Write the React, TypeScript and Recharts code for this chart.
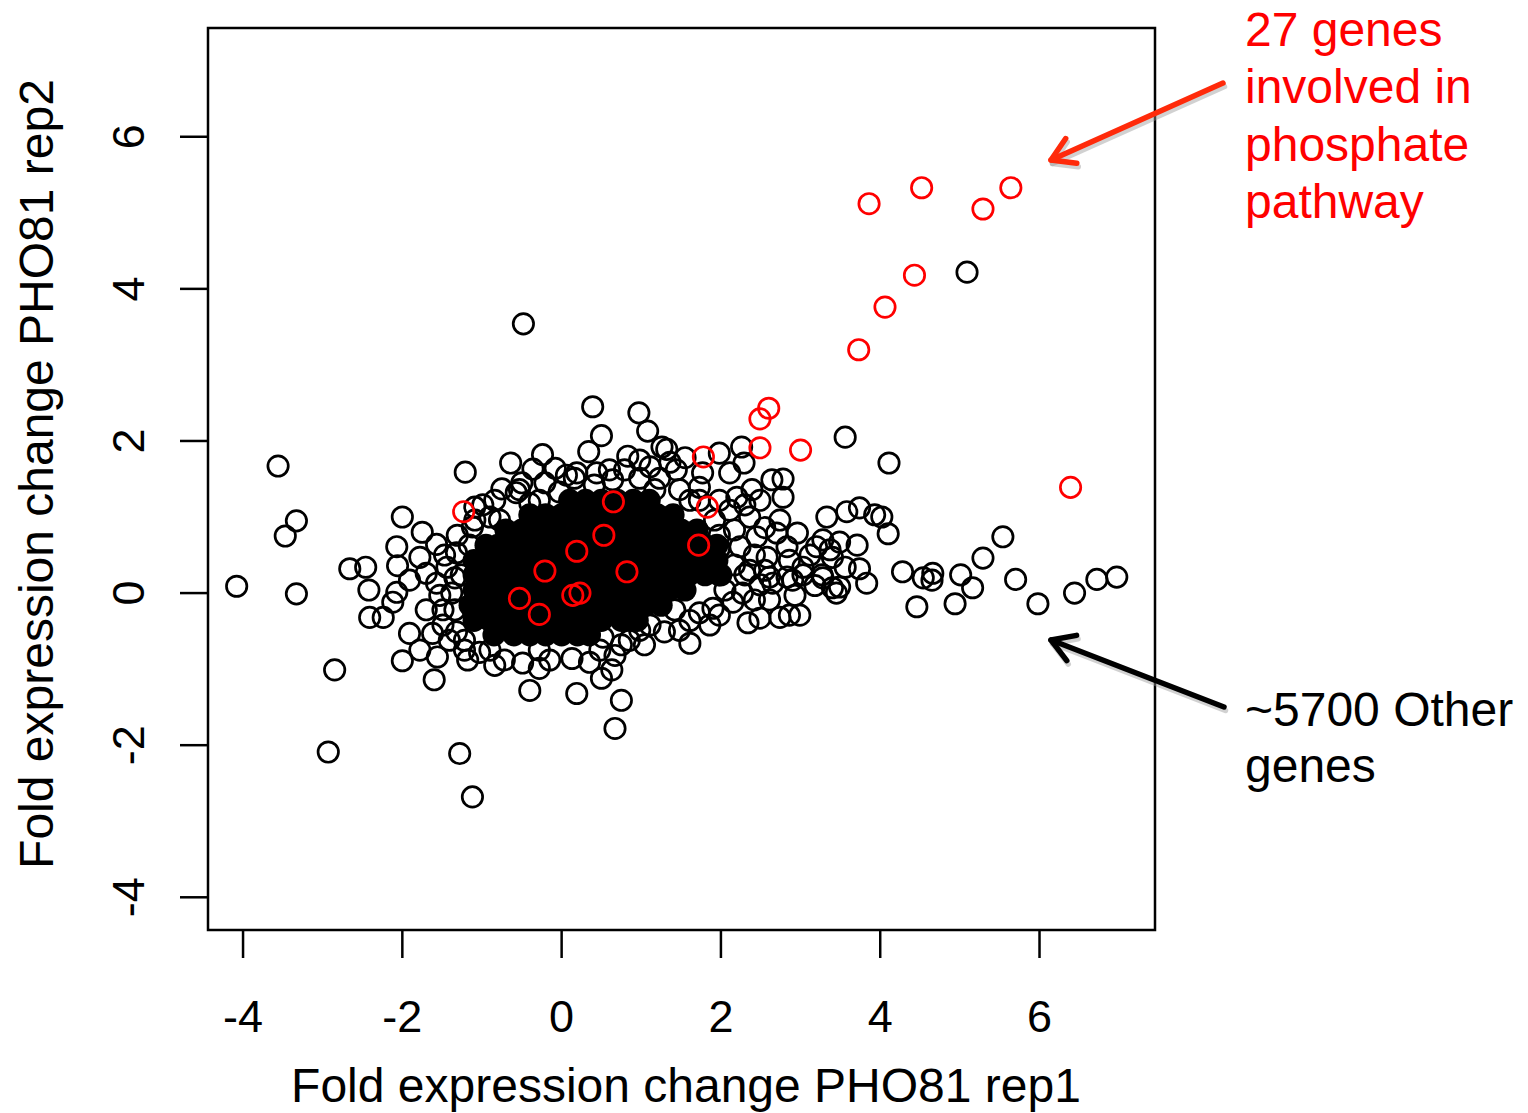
import React from "react";
import { ScatterChart, Scatter, XAxis, YAxis, ReferenceArea } from "recharts";

const xTicks = [-4, -2, 0, 2, 4, 6];
const yTicks = [-4, -2, 0, 2, 4, 6];
const xDomain: [number, number] = [-4.44, 7.45];
const yDomain: [number, number] = [-4.43, 7.43];

const xTitle = "Fold expression change PHO81 rep1";
const yTitle = "Fold expression change PHO81 rep2";
const redNote = ["27 genes", "involved in", "phosphate", "pathway"];
const blackNote = ["~5700 Other", "genes"];

// phosphate pathway genes (red)
const phosphateGenes: [number, number][] = [
  [5.64, 5.33], [4.52, 5.33], [3.86, 5.12], [5.29, 5.05], [4.43, 4.18],
  [4.06, 3.76], [3.73, 3.2], [2.6, 2.43], [2.49, 2.29], [2.49, 1.91],
  [3.0, 1.88], [1.78, 1.79], [6.39, 1.39], [-1.23, 1.07], [1.83, 1.13],
  [0.65, 1.2], [0.53, 0.76], [0.19, 0.55], [1.72, 0.63], [-0.21, 0.29],
  [0.82, 0.28], [-0.53, -0.07], [0.14, -0.03], [0.23, 0.0], [-0.28, -0.28],
];

// other genes that can be told apart (black)
const otherGenes: [number, number][] = [
  // far outliers
  [-4.08, 0.09], [-3.56, 1.67], [-3.33, 0.95], [-3.47, 0.75], [-3.33, -0.01],
  [-2.85, -1.01], [-2.93, -2.09], [-1.28, -2.11], [-1.12, -2.68], [-0.48, 3.54],
  [5.09, 4.22], [3.56, 2.05], [4.11, 1.71],
  [-2.66, 0.32], [-2.46, 0.34], [-2.42, 0.04], [-2.41, -0.32], [-2.24, -0.32],
  [-2.0, 1.0], [-2.07, 0.61], [-2.06, 0.36], [-2.07, 0.01], [-2.12, -0.12],
  [-2.0, -0.89], [-1.6, -1.14], [-1.21, 1.59],
  [-0.4, -1.28], [0.19, -1.32], [0.5, -1.12], [0.63, -1.01], [0.75, -1.41], [0.67, -1.78],
  // upper fringe
  [0.39, 2.45], [0.97, 2.37], [0.5, 2.07], [1.08, 2.13], [0.34, 1.86], [0.83, 1.8],
  [1.26, 1.92], [1.32, 1.89], [1.55, 1.78], [1.98, 1.84], [2.26, 1.92], [2.29, 1.71],
  [-0.24, 1.82], [-0.64, 1.71], [-0.08, 1.64], [-0.36, 1.63], [-0.5, 1.45],
  [-0.75, 1.37], [-0.57, 1.32], [-0.28, 1.22], [-0.99, 1.16], [-1.09, 1.13],
  [0.06, 1.55], [0.19, 1.58], [0.44, 1.58], [0.64, 1.49], [1.11, 1.66],
  [1.44, 1.62], [1.77, 1.58], [2.11, 1.58],
  [1.48, 1.36], [1.73, 1.22], [1.92, 0.96], [1.23, 1.51], [1.98, 0.76],
  [0.98, 1.51], [0.79, 1.62], [-0.78, 0.96], [-0.4, 1.18], [-0.03, 1.33], [0.41, 1.42],
  [1.17, 1.36], [1.73, 1.39], [1.98, 1.22], [2.3, 1.16], [1.61, 1.22],
  [-0.84, 1.22], [-0.53, 1.36], [-0.21, 1.45], [0.16, 1.51], [0.6, 1.62],
  [0.98, 1.75], [1.36, 1.72],
  // right fringe
  [2.64, 1.49], [2.78, 1.5], [2.39, 1.36], [2.78, 1.26], [2.49, 1.22], [2.2, 1.26],
  [2.11, 1.09], [2.36, 1.0], [2.74, 0.96], [2.96, 0.79], [2.7, 0.79], [2.45, 0.74],
  [2.24, 0.61], [2.83, 0.61], [3.2, 0.61], [3.4, 0.47], [2.58, 0.47], [3.03, 0.34],
  [2.83, 0.21], [2.36, 0.3], [2.65, 0.13], [3.28, 0.2], [3.49, 0.08], [2.49, 0.11],
  [2.61, 0.21], [2.9, 0.17], [3.03, 0.24], [3.27, 0.24], [3.4, 0.07], [2.55, 0.86],
  [2.05, 0.04], [2.3, 0.24], [1.98, 0.24],
  [2.17, 0.83], [1.98, 0.59], [2.42, 0.5], [2.17, 0.37], [2.55, 0.3], [2.86, 0.43],
  [3.12, 0.5], [3.18, 0.1], [2.42, -0.09], [1.98, -0.29], [2.61, -0.09], [2.93, -0.03],
  [1.73, -0.26], [1.9, -0.2], [2.15, -0.12], [2.27, 0.0], [2.34, -0.39], [2.49, -0.33],
  [2.74, -0.32], [2.86, -0.29], [2.99, -0.29], [1.29, -0.51], [1.61, -0.66],
  [0.75, -0.68], [0.98, -0.49], [0.52, -0.58], [1.61, -0.36], [1.42, -0.22],
  [1.11, -0.42], [0.85, -0.62], [1.48, -0.49], [1.86, -0.42], [1.04, -0.68],
  [0.67, -0.82], [0.35, -0.91],
  // right cluster
  [3.33, 1.0], [3.58, 1.07], [3.74, 1.12], [3.93, 1.03], [4.02, 1.0], [4.1, 0.78],
  [3.28, 0.7], [3.49, 0.67], [3.71, 0.63], [3.37, 0.57], [3.56, 0.34], [3.74, 0.32],
  [3.83, 0.13], [3.45, 0.0], [4.28, 0.28], [4.54, 0.2], [4.66, 0.26], [4.65, 0.17],
  [4.46, -0.18], [5.01, 0.24], [5.16, 0.07], [4.94, -0.14], [5.29, 0.46], [5.54, 0.74],
  [5.7, 0.18], [5.98, -0.14], [6.44, 0.0], [6.72, 0.18], [6.97, 0.21],
  // left and lower fringe
  [-1.75, 0.8], [-1.57, 0.64], [-1.32, 0.53], [-1.12, 0.87], [-0.9, 1.0], [-1.44, 0.34],
  [-1.78, 0.47], [-1.7, 0.26], [-1.91, 0.17], [-1.57, 0.13], [-1.38, 0.0], [-1.7, -0.22],
  [-1.49, -0.22], [-1.91, -0.53], [-1.62, -0.53], [-1.32, -0.51], [-1.78, -0.75],
  [-1.56, -0.84], [-1.18, -0.88], [-0.72, -0.88], [-0.49, -0.92], [-0.15, -0.88],
  [0.13, -0.86], [-0.9, -0.75], [-1.16, 0.63], [-1.26, 0.24], [-1.34, -0.22],
  [-1.22, -0.62], [-1.03, -0.78], [-0.28, -0.75], [0.48, -0.75],
  [-0.28, -0.99], [-0.84, -0.95], [-1.22, -0.75], [-1.41, -0.62], [-1.49, -0.42],
  [-1.53, -0.03], [-1.34, 0.2], [-1.47, 0.5], [-1.31, 0.76], [-1.09, 0.96],
];

// saturated centre of the cloud, where thousands of circles overlap into solid black
const denseCore: [number, number][] = [
  [0.1, 1.22], [0.3, 1.22], [0.5, 1.22], [0.7, 1.22], [0.9, 1.22], [1.1, 1.22],
  [-0.4, 1.03], [-0.2, 1.03], [0.0, 1.03], [0.2, 1.03], [0.4, 1.03], [0.6, 1.03],
  [0.8, 1.03], [1.0, 1.03], [1.2, 1.03], [1.4, 1.03],
  [-0.7, 0.83], [-0.5, 0.83], [-0.3, 0.83], [-0.1, 0.83], [0.1, 0.83], [0.3, 0.83],
  [0.5, 0.83], [0.7, 0.83], [0.9, 0.83], [1.1, 0.83], [1.3, 0.83], [1.5, 0.83], [1.7, 0.83],
  [-0.95, 0.63], [-0.8, 0.63], [-0.6, 0.63], [-0.4, 0.63], [-0.2, 0.63], [0.0, 0.63],
  [0.2, 0.63], [0.4, 0.63], [0.6, 0.63], [0.8, 0.63], [1.0, 0.63], [1.2, 0.63],
  [1.4, 0.63], [1.6, 0.63], [1.8, 0.63], [1.95, 0.63],
  [-1.1, 0.43], [-0.9, 0.43], [-0.7, 0.43], [-0.5, 0.43], [-0.3, 0.43], [-0.1, 0.43],
  [0.1, 0.43], [0.3, 0.43], [0.5, 0.43], [0.7, 0.43], [0.9, 0.43], [1.1, 0.43],
  [1.3, 0.43], [1.5, 0.43], [1.7, 0.43], [1.95, 0.43],
  [-1.1, 0.24], [-1.0, 0.24], [-0.8, 0.24], [-0.6, 0.24], [-0.4, 0.24], [-0.2, 0.24],
  [0.0, 0.24], [0.2, 0.24], [0.4, 0.24], [0.6, 0.24], [0.8, 0.24], [1.0, 0.24],
  [1.2, 0.24], [1.4, 0.24], [1.6, 0.24], [1.8, 0.24], [2.0, 0.24],
  [-1.1, 0.04], [-0.9, 0.04], [-0.7, 0.04], [-0.5, 0.04], [-0.3, 0.04], [-0.1, 0.04],
  [0.1, 0.04], [0.3, 0.04], [0.5, 0.04], [0.7, 0.04], [0.9, 0.04], [1.1, 0.04],
  [1.35, 0.04], [1.55, 0.04],
  [-1.15, -0.16], [-1.0, -0.16], [-0.8, -0.16], [-0.6, -0.16], [-0.4, -0.16], [-0.2, -0.16],
  [0.0, -0.16], [0.2, -0.16], [0.4, -0.16], [0.6, -0.16], [0.8, -0.16], [1.05, -0.16], [1.25, -0.16],
  [-1.1, -0.36], [-0.9, -0.36], [-0.7, -0.36], [-0.5, -0.36], [-0.3, -0.36], [-0.1, -0.36],
  [0.1, -0.36], [0.3, -0.36], [0.5, -0.36], [0.75, -0.36], [0.95, -0.36],
  [-0.85, -0.55], [-0.6, -0.55], [-0.4, -0.55], [-0.2, -0.55], [0.0, -0.55], [0.2, -0.55], [0.35, -0.55],
];

const toPoints = (arr: [number, number][]) => arr.map(([x, y]) => ({ x, y }));

const FONT = "'Liberation Sans', Arial, Helvetica, sans-serif";

const ring = (color: string) => (props: any) => (
  <circle cx={props.cx} cy={props.cy} r={10.2} fill="none" stroke={color} strokeWidth={2.7} />
);
const disk = (props: any) => <circle cx={props.cx} cy={props.cy} r={11.5} fill="#000" />;

const XTick = ({ x, payload }: any) => (
  <text x={x} y={1032} textAnchor="middle" fontSize={45} fontFamily={FONT} fill="#000">
    {payload.value}
  </text>
);

const YTick = ({ y, payload }: any) => (
  <text
    x={144}
    y={y}
    transform={`rotate(-90, 144, ${y})`}
    textAnchor="middle"
    fontSize={45}
    fontFamily={FONT}
    fill="#000"
  >
    {payload.value}
  </text>
);

const Arrow = ({ x1, y1, x2, y2, color }: any) => {
  // open arrow head at (x2, y2)
  const ang = Math.atan2(y1 - y2, x1 - x2);
  const len = 26;
  const spread = 0.55;
  const a = [x2 + len * Math.cos(ang + spread), y2 + len * Math.sin(ang + spread)];
  const b = [x2 + len * Math.cos(ang - spread), y2 + len * Math.sin(ang - spread)];
  const head = `${a[0]},${a[1]} ${x2},${y2} ${b[0]},${b[1]}`;
  return (
    <g strokeLinecap="round" strokeLinejoin="round" fill="none">
      <g transform="translate(1.5,3.5)" stroke="#999" strokeOpacity={0.45} strokeWidth={5.5}>
        <line x1={x1} y1={y1} x2={x2} y2={y2} />
        <polyline points={head} />
      </g>
      <g stroke={color} strokeWidth={5.5}>
        <line x1={x1} y1={y1} x2={x2} y2={y2} />
        <polyline points={head} />
      </g>
    </g>
  );
};

export default function App() {
  return (
    <div style={{ position: "absolute", left: 0, top: 0, width: 1528, height: 1113, background: "#fff" }}>
      <ScatterChart width={1528} height={1113} margin={{ top: 28, right: 373, bottom: 83, left: 108 }}>
        <XAxis
          type="number"
          dataKey="x"
          domain={xDomain}
          ticks={xTicks}
          allowDataOverflow
          axisLine={false}
          tickSize={28}
          tickLine={{ stroke: "#000", strokeWidth: 2.5 }}
          tick={<XTick />}
          height={100}
        />
        <YAxis
          type="number"
          dataKey="y"
          domain={yDomain}
          ticks={yTicks}
          allowDataOverflow
          axisLine={false}
          tickSize={28}
          tickLine={{ stroke: "#000", strokeWidth: 2.5 }}
          tick={<YTick />}
          width={100}
        />
        <Scatter data={toPoints(otherGenes)} shape={ring("#000")} isAnimationActive={false} />
        <Scatter data={toPoints(denseCore)} shape={disk} isAnimationActive={false} />
        <Scatter data={toPoints(phosphateGenes)} shape={ring("#ff0000")} isAnimationActive={false} />
        <ReferenceArea
          x1={xDomain[0]}
          x2={xDomain[1]}
          y1={yDomain[0]}
          y2={yDomain[1]}
          fill="none"
          fillOpacity={0}
          stroke="#000"
          strokeWidth={2.5}
          ifOverflow="visible"
        />
      </ScatterChart>
      <svg
        width={1528}
        height={1113}
        style={{ position: "absolute", left: 0, top: 0, pointerEvents: "none" }}
        fontFamily={FONT}
      >
        <text x={686} y={1102} textAnchor="middle" fontSize={48} fill="#000">
          {xTitle}
        </text>
        <text x={53} y={474} transform="rotate(-90, 53, 474)" textAnchor="middle" fontSize={48} fill="#000">
          {yTitle}
        </text>
        {redNote.map((t, i) => (
          <text key={t} x={1245} y={46 + i * 57.3} fontSize={48} fill="#ff0000">
            {t}
          </text>
        ))}
        {blackNote.map((t, i) => (
          <text key={t} x={1245} y={726 + i * 56} fontSize={48} fill="#000">
            {t}
          </text>
        ))}
        <Arrow x1={1223} y1={83} x2={1051} y2={160} color="#ff2a0a" />
        <Arrow x1={1224} y1={707} x2={1051} y2={640} color="#000" />
      </svg>
    </div>
  );
}
